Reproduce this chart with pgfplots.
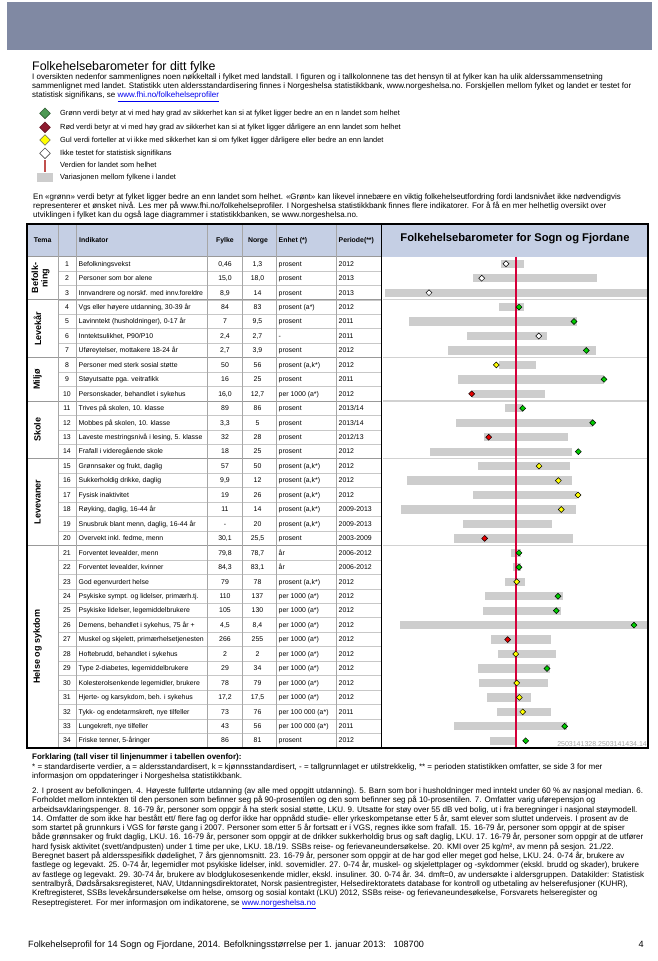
\documentclass[border=0pt]{standalone}
\usepackage{fontspec}
\setmainfont{Liberation Sans}
\usepackage{pgfplots}
\pgfplotsset{compat=1.18}
\usepackage{pgfplotstable}
\definecolor{banner}{HTML}{8089A3}
\definecolor{hdr}{HTML}{C5CFE4}
\definecolor{barcol}{HTML}{CDCDCD}
\definecolor{natline}{HTML}{D4003A}
\definecolor{dgreen}{HTML}{00CC00}
\definecolor{dred}{HTML}{E60000}
\definecolor{dyellow}{HTML}{FFFF00}
\definecolor{lgreen}{HTML}{4E9A55}
\definecolor{lred}{HTML}{8E1B2F}
\definecolor{lnat}{HTML}{C0504D}
\definecolor{linkc}{HTML}{0000EE}

\newcommand{\fT}{\fontsize{6.9}{8}\selectfont}
\newcommand{\fL}{\fontsize{7.4}{8.5}\selectfont}
\newcommand{\fI}{\fontsize{8}{9}\selectfont}
\newcommand{\fN}{\fontsize{8}{9}\selectfont}
\newcommand{\lnk}[1]{\textcolor{linkc}{\underline{#1}}}

% chart data: positions relative to the national value (red line = 0)
\pgfplotstableread{
row lo hi
1 -15 8.3
2 -43 81.3
3 -131 132
4 -16.7 8
5 -107 61
6 -49 30.7
7 -68 80.3
8 -17 20
9 -57.7 88
10 -44.3 29
11 -10.7 7.3
12 -60.3 76.7
13 -31.7 51.7
14 -86 55.7
15 -38.3 54.3
16 -109.3 55.7
17 -43 61.3
18 -115 59.7
19 -53.3 36.3
20 -62.3 57.3
21 -5 5
22 -3 5
23 -11.3 9.3
24 -31 47
25 -33 45
26 -116 132
27 -24.7 34.7
28 -18.3 39.7
29 -38.3 33.7
30 -36.7 32.3
31 -29 15
32 -19 35.3
33 -61.7 51.3
34 -25.7 1
}\bars
\pgfplotstableread{
row fy
4 3
5 58
7 70.3
9 88
11 6.7
12 76.7
14 62.3
21 3
22 3
24 42
25 40.3
26 118
29 31
33 48.7
34 9.7
}\greenpts
\pgfplotstableread{
row fy
10 -44.3
13 -27.3
20 -31.3
27 -8.3
}\redpts
\pgfplotstableread{
row fy
8 -19.7
15 23
16 42.3
17 62
18 45.3
23 0.7
28 -0.3
30 0.7
31 3.3
32 6.7
}\yellowpts
\pgfplotstableread{
row fy
1 -10
2 -34.3
3 -87
6 22.7
}\whitepts

\newcommand{\trow}[6]{%
 \pgfmathsetmacro{\yy}{263.7+(#1-1)*14.45+2.4}%
 \node[anchor=base,font=\fT] at (67,\yy) {#1};
 \node[anchor=base west,font=\fT] at (78.5,\yy) {#2};
 \node[anchor=base,font=\fT] at (225,\yy) {#3};
 \node[anchor=base,font=\fT] at (257.5,\yy) {#4};
 \node[anchor=base west,font=\fT] at (278.5,\yy) {#5};
 \node[anchor=base west,font=\fT] at (338.5,\yy) {#6};
}
\newcommand{\ldia}[3]{\filldraw[fill=#1,draw=#2,line width=0.6pt] (45,#3-5.3) -- (50.3,#3) -- (45,#3+5.3) -- (39.7,#3) -- cycle;}

\begin{document}
\begin{tikzpicture}
\begin{scope}[x=1pt,y=-1pt,every node/.style={inner sep=0pt}]
\path[use as bounding box] (0,0) rectangle (658,961);
\fill[white] (0,0) rectangle (658,961);
\fill[banner] (7,2) rectangle (652,49.5);
% title and intro
\node[anchor=base west,font=\fontsize{12.4}{14}\selectfont] at (32,70) {Folkehelsebarometer for ditt fylke};
\node[anchor=base west,font=\fI] at (32,79.4) {I oversikten nedenfor sammenlignes noen nøkkeltall i fylket med landstall. I figuren og i tallkolonnene tas det hensyn til at fylker kan ha ulik alderssammensetning};
\node[anchor=base west,font=\fI] at (32,88.7) {sammenlignet med landet. Statistikk uten aldersstandardisering finnes i Norgeshelsa statistikkbank, www.norgeshelsa.no. Forskjellen mellom fylket og landet er testet for};
\node[anchor=base west,font=\fI] at (32,97.7) {statistisk signifikans, se \lnk{www.fhi.no/folkehelseprofiler}};
% legend
\ldia{lgreen}{lgreen!60!black}{113.3}
\ldia{lred}{lred!70!black}{127.3}
\ldia{dyellow}{black!60}{140}
\ldia{white}{black!70}{153.3}
\fill[lnat] (44,160) rectangle (46.2,172);
\fill[barcol] (36.7,173.3) rectangle (53.3,181.7);
\node[anchor=base west,font=\fL] at (60,115.8) {Grønn verdi betyr at vi med høy grad av sikkerhet kan si at fylket ligger bedre an en n landet som helhet};
\node[anchor=base west,font=\fL] at (60,129.8) {Rød verdi betyr at vi med høy grad av sikkerhet kan si at fylket ligger dårligere an enn landet som helhet};
\node[anchor=base west,font=\fL] at (60,142.5) {Gul verdi forteller at vi ikke med sikkerhet kan si om fylket ligger dårligere eller bedre an enn landet};
\node[anchor=base west,font=\fL] at (60,155.8) {Ikke testet for statistisk signifikans};
\node[anchor=base west,font=\fL] at (60,167.5) {Verdien for landet som helhet};
\node[anchor=base west,font=\fL] at (60,179.2) {Variasjonen mellom fylkene i landet};
% second paragraph
\node[anchor=base west,font=\fI] at (33,199.4) {En «grønn» verdi betyr at fylket ligger bedre an enn landet som helhet. «Grønt» kan likevel innebære en viktig folkehelseutfordring fordi landsnivået ikke nødvendigvis};
\node[anchor=base west,font=\fI] at (33,208.7) {representerer et ønsket nivå. Les mer på www.fhi.no/folkehelseprofiler. I Norgeshelsa statistikkbank finnes flere indikatorer. For å få en mer helhetlig oversikt over};
\node[anchor=base west,font=\fI] at (33,217.7) {utviklingen i fylket kan du også lage diagrammer i statistikkbanken, se www.norgeshelsa.no.};
% table header
\fill[hdr] (27,224) rectangle (648,256.5);
\foreach \i in {1,...,33} {\draw[black!22,line width=0.7pt] (58.3,{256.5+\i*14.45}) -- (381,{256.5+\i*14.45});}
\foreach \i in {3,7,10,14,20} {\draw[black!40,line width=0.9pt] (27,{256.5+\i*14.45}) -- (381,{256.5+\i*14.45});}
\draw[black!40,line width=0.8pt] (27,256.5) -- (381,256.5);
\foreach \xx in {58.3,76,207.3,242.3,276.7,336} {\draw[black!35,line width=0.7pt] (\xx,224) -- (\xx,748);}
\node[anchor=base,font=\bfseries\fT] at (42.6,242.7) {Tema};
\node[anchor=base west,font=\bfseries\fT] at (79,242.7) {Indikator};
\node[anchor=base,font=\bfseries\fT] at (225,242.7) {Fylke};
\node[anchor=base,font=\bfseries\fT] at (258,242.7) {Norge};
\node[anchor=base west,font=\bfseries\fT] at (278.5,242.7) {Enhet (*)};
\node[anchor=base west,font=\bfseries\fT] at (338.5,242.7) {Periode(**)};
\node[font=\bfseries\fontsize{11.2}{13}\selectfont] at (515,239) {Folkehelsebarometer for Sogn og Fjordane};
% Tema labels
\node[rotate=90,align=center,font=\bfseries\fontsize{9}{9.5}\selectfont] at (40.5,278.2) {Befolk-\\ning};
\node[rotate=90,font=\bfseries\fontsize{9}{10}\selectfont] at (37.5,328.7) {Levekår};
\node[rotate=90,font=\bfseries\fontsize{9}{10}\selectfont] at (37.5,379.3) {Miljø};
\node[rotate=90,font=\bfseries\fontsize{9}{10}\selectfont] at (37.5,429.9) {Skole};
\node[rotate=90,font=\bfseries\fontsize{9}{10}\selectfont] at (37.5,502.1) {Levevaner};
\node[rotate=90,font=\bfseries\fontsize{9}{10}\selectfont] at (37.5,646.7) {Helse og sykdom};
% table rows
\trow{1}{Befolkningsvekst}{0,46}{1,3}{prosent}{2012}
\trow{2}{Personer som bor alene}{15,0}{18,0}{prosent}{2013}
\trow{3}{Innvandrere og norskf. med innv.foreldre}{8,9}{14}{prosent}{2013}
\trow{4}{Vgs eller høyere utdanning, 30-39 år}{84}{83}{prosent (a*)}{2012}
\trow{5}{Lavinntekt (husholdninger), 0-17 år}{7}{9,5}{prosent}{2011}
\trow{6}{Inntektsulikhet, P90/P10}{2,4}{2,7}{-}{2011}
\trow{7}{Uføreytelser, mottakere 18-24 år}{2,7}{3,9}{prosent}{2012}
\trow{8}{Personer med sterk sosial støtte}{50}{56}{prosent (a,k*)}{2012}
\trow{9}{Støyutsatte pga. veitrafikk}{16}{25}{prosent}{2011}
\trow{10}{Personskader, behandlet i sykehus}{16,0}{12,7}{per 1000 (a*)}{2012}
\trow{11}{Trives på skolen, 10. klasse}{89}{86}{prosent}{2013/14}
\trow{12}{Mobbes på skolen, 10. klasse}{3,3}{5}{prosent}{2013/14}
\trow{13}{Laveste mestringsnivå i lesing, 5. klasse}{32}{28}{prosent}{2012/13}
\trow{14}{Frafall i videregående skole}{18}{25}{prosent}{2012}
\trow{15}{Grønnsaker og frukt, daglig}{57}{50}{prosent (a,k*)}{2012}
\trow{16}{Sukkerholdig drikke, daglig}{9,9}{12}{prosent (a,k*)}{2012}
\trow{17}{Fysisk inaktivitet}{19}{26}{prosent (a,k*)}{2012}
\trow{18}{Røyking, daglig, 16-44 år}{11}{14}{prosent (a,k*)}{2009-2013}
\trow{19}{Snusbruk blant menn, daglig, 16-44 år}{-}{20}{prosent (a,k*)}{2009-2013}
\trow{20}{Overvekt inkl. fedme, menn}{30,1}{25,5}{prosent}{2003-2009}
\trow{21}{Forventet levealder, menn}{79,8}{78,7}{år}{2006-2012}
\trow{22}{Forventet levealder, kvinner}{84,3}{83,1}{år}{2006-2012}
\trow{23}{God egenvurdert helse}{79}{78}{prosent (a,k*)}{2012}
\trow{24}{Psykiske sympt. og lidelser, primærh.tj.}{110}{137}{per 1000 (a*)}{2012}
\trow{25}{Psykiske lidelser, legemiddelbrukere}{105}{130}{per 1000 (a*)}{2012}
\trow{26}{Demens, behandlet i sykehus, 75 år +}{4,5}{8,4}{per 1000 (a*)}{2012}
\trow{27}{Muskel og skjelett, primærhelsetjenesten}{266}{255}{per 1000 (a*)}{2012}
\trow{28}{Hoftebrudd, behandlet i sykehus}{2}{2}{per 1000 (a*)}{2012}
\trow{29}{Type 2-diabetes, legemiddelbrukere}{29}{34}{per 1000 (a*)}{2012}
\trow{30}{Kolesterolsenkende legemidler, brukere}{78}{79}{per 1000 (a*)}{2012}
\trow{31}{Hjerte- og karsykdom, beh. i sykehus}{17,2}{17,5}{per 1000 (a*)}{2012}
\trow{32}{Tykk- og endetarmskreft, nye tilfeller}{73}{76}{per 100 000 (a*)}{2011}
\trow{33}{Lungekreft, nye tilfeller}{43}{56}{per 100 000 (a*)}{2011}
\trow{34}{Friske tenner, 5-åringer}{86}{81}{prosent}{2012}
% footnotes
\node[anchor=base west,font=\bfseries\fN] at (32,759.6) {Forklaring (tall viser til linjenummer i tabellen ovenfor):};
\node[anchor=base west,font=\fN] at (32,769.1) {* = standardiserte verdier, a = aldersstandardisert, k = kjønnsstandardisert, - = tallgrunnlaget er utilstrekkelig, ** = perioden statistikken omfatter, se side 3 for mer};
\node[anchor=base west,font=\fN] at (32,778.6) {informasjon om oppdateringer i Norgeshelsa statistikkbank.};
\foreach \t [count=\k from 0] in {%
{2. I prosent av befolkningen. 4. Høyeste fullførte utdanning (av alle med oppgitt utdanning). 5. Barn som bor i husholdninger med inntekt under 60 \% av nasjonal median. 6.},%
{Forholdet mellom inntekten til den personen som befinner seg på 90-prosentilen og den som befinner seg på 10-prosentilen. 7. Omfatter varig uførepensjon og},%
{arbeidsavklaringspenger. 8. 16-79 år, personer som oppgir å ha sterk sosial støtte, LKU. 9. Utsatte for støy over 55 dB ved bolig, ut i fra beregninger i nasjonal støymodell.},%
{14. Omfatter de som ikke har bestått ett/ flere fag og derfor ikke har oppnådd studie- eller yrkeskompetanse etter 5 år, samt elever som sluttet underveis. I prosent av de},%
{som startet på grunnkurs i VGS for første gang i 2007. Personer som etter 5 år fortsatt er i VGS, regnes ikke som frafall. 15. 16-79 år, personer som oppgir at de spiser},%
{både grønnsaker og frukt daglig, LKU. 16. 16-79 år, personer som oppgir at de drikker sukkerholdig brus og saft daglig, LKU. 17. 16-79 år, personer som oppgir at de utfører},%
{hard fysisk aktivitet (svett/andpusten) under 1 time per uke, LKU. 18./19. SSBs reise- og ferievaneundersøkelse. 20. KMI over 25 kg/m², av menn på sesjon. 21./22.},%
{Beregnet basert på aldersspesifikk dødelighet, 7 års gjennomsnitt. 23. 16-79 år, personer som oppgir at de har god eller meget god helse, LKU. 24. 0-74 år, brukere av},%
{fastlege og legevakt. 25. 0-74 år, legemidler mot psykiske lidelser, inkl. sovemidler. 27. 0-74 år, muskel- og skjelettplager og -sykdommer (ekskl. brudd og skader), brukere},%
{av fastlege og legevakt. 29. 30-74 år, brukere av blodglukosesenkende midler, ekskl. insuliner. 30. 0-74 år. 34. dmft=0, av undersøkte i aldersgruppen. Datakilder: Statistisk},%
{sentralbyrå, Dødsårsaksregisteret, NAV, Utdanningsdirektoratet, Norsk pasientregister, Helsedirektoratets database for kontroll og utbetaling av helserefusjoner (KUHR),},%
{Kreftregisteret, SSBs levekårsundersøkelse om helse, omsorg og sosial kontakt (LKU) 2012, SSBs reise- og ferievaneundesøkelse, Forsvarets helseregister og},%
{Reseptregisteret. For mer informasjon om indikatorene, se \lnk{www.norgeshelsa.no}}%
} {\node[anchor=base west,font=\fN] at (32,{793.4+\k*9.3}) {\t};}
% footer
\node[anchor=base west,font=\fontsize{9.1}{10}\selectfont] at (28,947.3) {Folkehelseprofil for 14 Sogn og Fjordane, 2014. Befolkningsstørrelse per 1. januar 2013:\ \ \ 108700};
\node[anchor=base east,font=\fontsize{9.1}{10}\selectfont] at (644,947.3) {4};
\end{scope}

\begin{axis}[at={(383pt,-748pt)}, anchor=south west, scale only axis,
  width=265pt, height=491.5pt,
  xmin=-133, xmax=132, ymin=0.5, ymax=34.5, y dir=reverse,
  axis line style={draw=none}, tick style={draw=none},
  xtick=\empty, ytick={3.5,7.5,10.5,14.5,20.5}, yticklabels={},
  ymajorgrids, grid style={black!18, line width=1.2pt}]
\addplot[xcomb, draw=barcol, line width=8.3pt] table[x=lo,y=row] {\bars};
\addplot[xcomb, draw=barcol, line width=8.3pt] table[x=hi,y=row] {\bars};
\addplot[only marks, mark=square*, mark size=2.1pt, mark options={rotate=45, fill=dgreen, draw=black, line width=0.5pt}] table[x=fy,y=row] {\greenpts};
\addplot[only marks, mark=square*, mark size=2.1pt, mark options={rotate=45, fill=dred, draw=black, line width=0.5pt}] table[x=fy,y=row] {\redpts};
\addplot[only marks, mark=square*, mark size=2.1pt, mark options={rotate=45, fill=dyellow, draw=black, line width=0.5pt}] table[x=fy,y=row] {\yellowpts};
\addplot[only marks, mark=square*, mark size=2.1pt, mark options={rotate=45, fill=white, draw=black, line width=0.5pt}] table[x=fy,y=row] {\whitepts};
\addplot[natline, line width=1.3pt] coordinates {(0,0.5) (0,34.5)};
\end{axis}

\begin{scope}[x=1pt,y=-1pt,every node/.style={inner sep=0pt}]
\node[anchor=base east,font=\fontsize{7}{8}\selectfont,text=black!35] at (647,746.5) {2503141328.2503141434.14};
\draw[line width=1.2pt] (27,224) rectangle (648,748);
\draw[line width=1.2pt] (381.5,224) -- (381.5,748);
\end{scope}
\end{tikzpicture}
\end{document}
